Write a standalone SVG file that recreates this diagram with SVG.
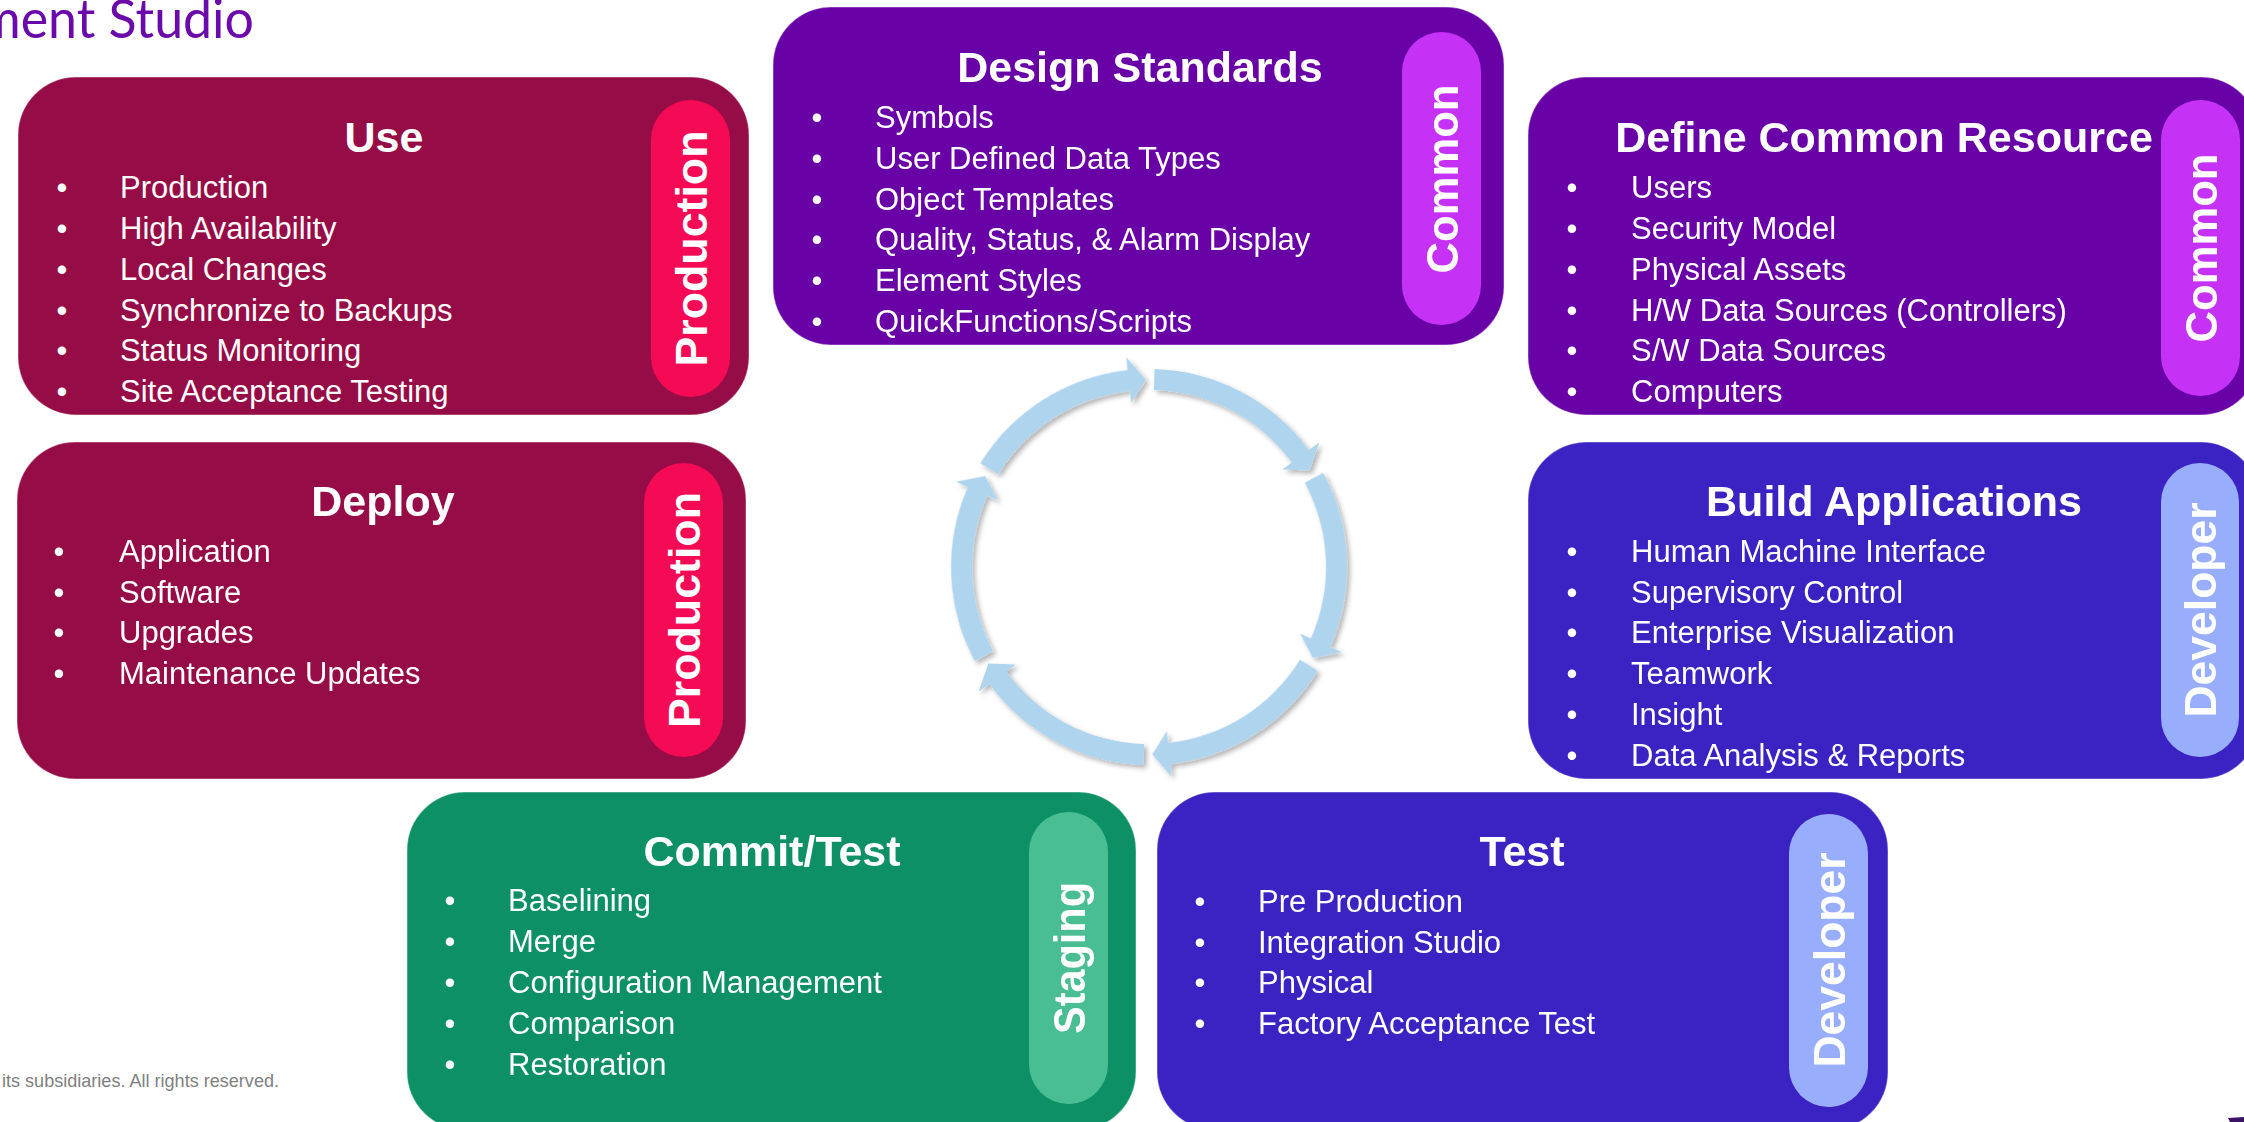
<svg xmlns="http://www.w3.org/2000/svg" xmlns:xlink="http://www.w3.org/1999/xlink" width="2244" height="1122" viewBox="0 0 2244 1122">
<style>
.box{stroke:#ffffff;stroke-opacity:.3;stroke-width:1.5}
.prod{fill:#960c46}.prodp{fill:#f50a55}
.com{fill:#6802a6}.comp{fill:#c531f5}
.dev{fill:#3b22c2}.devp{fill:#98aefc}
.stg{fill:#0e9066}.stgp{fill:#48be92}
text{font-family:"Liberation Sans",Arial,sans-serif;fill:#ffffff}
.title{font-size:43px;font-weight:bold;text-anchor:middle}
.body{font-size:31px}
.lbl{font-size:45px;font-weight:bold;text-anchor:middle}
.arrow{fill:#afd4ee}
</style>
<defs>
<filter id="sh" x="-10%" y="-10%" width="120%" height="120%">
<feDropShadow dx="3" dy="3" stdDeviation="2.5" flood-color="#000000" flood-opacity="0.3"/>
</filter>
<path id="arr" class="arrow" d="M1154.53,369.08 A198,198 0 0 1 1308.78,450.06 L1319.27,442.38 L1309.72,470.43 L1282.15,469.55 L1291.83,462.46 A177,177 0 0 0 1153.94,390.07 Z"/>
</defs>
<rect width="2244" height="1122" fill="#ffffff"/>

<text x="-22" y="38" font-size="54" textLength="276" lengthAdjust="spacingAndGlyphs" style="font-family:Lato,'Liberation Sans',sans-serif;font-weight:400;fill:#6a0aab">ment Studio</text>
<text x="2" y="1087" font-size="19" textLength="277" lengthAdjust="spacingAndGlyphs" style="fill:#7f7f7f">its subsidiaries. All rights reserved.</text>

<g id="connectors" filter="url(#sh)">
<use xlink:href="#arr"/>
<use xlink:href="#arr" transform="rotate(60 1149 567)"/>
<use xlink:href="#arr" transform="rotate(120 1149 567)"/>
<use xlink:href="#arr" transform="rotate(180 1149 567)"/>
<use xlink:href="#arr" transform="rotate(240 1149 567)"/>
<use xlink:href="#arr" transform="rotate(300 1149 567)"/>
</g>

<g id="node-use">
<rect class="box prod" x="18" y="77" width="731" height="338" rx="58"/>
<rect class="prodp" x="651" y="100" width="79" height="297" rx="39.5"/>
<text class="lbl" transform="translate(706.5 248.5) rotate(-90)" textLength="236" lengthAdjust="spacingAndGlyphs">Production</text>
<text class="title" x="384" y="152">Use</text>
<text class="body"><tspan x="56.5" y="198">•</tspan><tspan x="120">Production</tspan></text>
<text class="body"><tspan x="56.5" y="239">•</tspan><tspan x="120">High Availability</tspan></text>
<text class="body"><tspan x="56.5" y="280">•</tspan><tspan x="120">Local Changes</tspan></text>
<text class="body"><tspan x="56.5" y="321">•</tspan><tspan x="120">Synchronize to Backups</tspan></text>
<text class="body"><tspan x="56.5" y="361">•</tspan><tspan x="120">Status Monitoring</tspan></text>
<text class="body"><tspan x="56.5" y="402">•</tspan><tspan x="120">Site Acceptance Testing</tspan></text>
</g>

<g id="node-deploy">
<rect class="box prod" x="17" y="442" width="729" height="337" rx="58"/>
<rect class="prodp" x="644" y="463" width="79" height="294" rx="39.5"/>
<text class="lbl" transform="translate(699.5 610) rotate(-90)" textLength="236" lengthAdjust="spacingAndGlyphs">Production</text>
<text class="title" x="383" y="516">Deploy</text>
<text class="body"><tspan x="53.5" y="562">•</tspan><tspan x="119">Application</tspan></text>
<text class="body"><tspan x="53.5" y="603">•</tspan><tspan x="119">Software</tspan></text>
<text class="body"><tspan x="53.5" y="643">•</tspan><tspan x="119">Upgrades</tspan></text>
<text class="body"><tspan x="53.5" y="684">•</tspan><tspan x="119">Maintenance Updates</tspan></text>
</g>

<g id="node-design">
<rect class="box com" x="773" y="7" width="731" height="338" rx="58"/>
<rect class="comp" x="1402" y="32" width="79" height="293" rx="39.5"/>
<text class="lbl" transform="translate(1457.5 179) rotate(-90)" textLength="189" lengthAdjust="spacingAndGlyphs">Common</text>
<text class="title" x="1140" y="82">Design Standards</text>
<text class="body"><tspan x="811.5" y="128">•</tspan><tspan x="875">Symbols</tspan></text>
<text class="body"><tspan x="811.5" y="169">•</tspan><tspan x="875">User Defined Data Types</tspan></text>
<text class="body"><tspan x="811.5" y="210">•</tspan><tspan x="875">Object Templates</tspan></text>
<text class="body"><tspan x="811.5" y="250">•</tspan><tspan x="875">Quality, Status, &amp; Alarm Display</tspan></text>
<text class="body"><tspan x="811.5" y="291">•</tspan><tspan x="875">Element Styles</tspan></text>
<text class="body"><tspan x="811.5" y="332">•</tspan><tspan x="875">QuickFunctions/Scripts</tspan></text>
</g>

<g id="node-define">
<rect class="box com" x="1528" y="77" width="731" height="338" rx="58"/>
<rect class="comp" x="2161" y="100" width="79" height="296" rx="39.5"/>
<text class="lbl" transform="translate(2216.5 248) rotate(-90)" textLength="189" lengthAdjust="spacingAndGlyphs">Common</text>
<text class="title" x="1884" y="152">Define Common Resource</text>
<text class="body"><tspan x="1566.5" y="198">•</tspan><tspan x="1631">Users</tspan></text>
<text class="body"><tspan x="1566.5" y="239">•</tspan><tspan x="1631">Security Model</tspan></text>
<text class="body"><tspan x="1566.5" y="280">•</tspan><tspan x="1631">Physical Assets</tspan></text>
<text class="body"><tspan x="1566.5" y="321">•</tspan><tspan x="1631">H/W Data Sources (Controllers)</tspan></text>
<text class="body"><tspan x="1566.5" y="361">•</tspan><tspan x="1631">S/W Data Sources</tspan></text>
<text class="body"><tspan x="1566.5" y="402">•</tspan><tspan x="1631">Computers</tspan></text>
</g>

<g id="node-build">
<rect class="box dev" x="1528" y="442" width="731" height="337" rx="58"/>
<rect class="devp" x="2161" y="463" width="78" height="294" rx="39"/>
<text class="lbl" transform="translate(2215.5 610) rotate(-90)" textLength="215" lengthAdjust="spacingAndGlyphs">Developer</text>
<text class="title" x="1894" y="516">Build Applications</text>
<text class="body"><tspan x="1566.5" y="562">•</tspan><tspan x="1631">Human Machine Interface</tspan></text>
<text class="body"><tspan x="1566.5" y="603">•</tspan><tspan x="1631">Supervisory Control</tspan></text>
<text class="body"><tspan x="1566.5" y="643">•</tspan><tspan x="1631">Enterprise Visualization</tspan></text>
<text class="body"><tspan x="1566.5" y="684">•</tspan><tspan x="1631">Teamwork</tspan></text>
<text class="body"><tspan x="1566.5" y="725">•</tspan><tspan x="1631">Insight</tspan></text>
<text class="body"><tspan x="1566.5" y="766">•</tspan><tspan x="1631">Data Analysis &amp; Reports</tspan></text>
</g>

<g id="node-commit">
<rect class="box stg" x="407" y="792" width="729" height="338" rx="58"/>
<rect class="stgp" x="1029" y="812" width="79" height="292" rx="39.5"/>
<text class="lbl" transform="translate(1084.5 958) rotate(-90)" textLength="152" lengthAdjust="spacingAndGlyphs">Staging</text>
<text class="title" x="772" y="866">Commit/Test</text>
<text class="body"><tspan x="444.5" y="911">•</tspan><tspan x="508">Baselining</tspan></text>
<text class="body"><tspan x="444.5" y="952">•</tspan><tspan x="508">Merge</tspan></text>
<text class="body"><tspan x="444.5" y="993">•</tspan><tspan x="508">Configuration Management</tspan></text>
<text class="body"><tspan x="444.5" y="1034">•</tspan><tspan x="508">Comparison</tspan></text>
<text class="body"><tspan x="444.5" y="1075">•</tspan><tspan x="508">Restoration</tspan></text>
</g>

<g id="node-test">
<rect class="box dev" x="1157" y="792" width="731" height="338" rx="58"/>
<rect class="devp" x="1789" y="814" width="79" height="293" rx="39.5"/>
<text class="lbl" transform="translate(1844.5 960) rotate(-90)" textLength="215" lengthAdjust="spacingAndGlyphs">Developer</text>
<text class="title" x="1522" y="866">Test</text>
<text class="body"><tspan x="1194.5" y="912">•</tspan><tspan x="1258">Pre Production</tspan></text>
<text class="body"><tspan x="1194.5" y="953">•</tspan><tspan x="1258">Integration Studio</tspan></text>
<text class="body"><tspan x="1194.5" y="993">•</tspan><tspan x="1258">Physical</tspan></text>
<text class="body"><tspan x="1194.5" y="1034">•</tspan><tspan x="1258">Factory Acceptance Test</tspan></text>
</g>

<polygon points="2228,1118 2244,1117 2244,1122 2230,1122" fill="#3b1366"/>
</svg>
